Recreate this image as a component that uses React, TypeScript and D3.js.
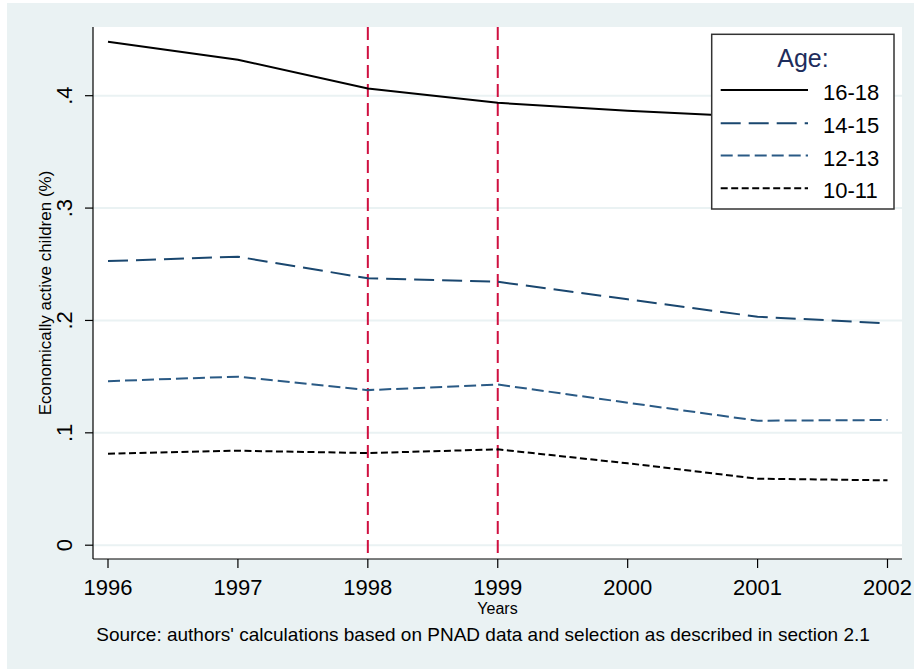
import React from "react";
import * as d3 from "d3";

const years = [1996, 1997, 1998, 1999, 2000, 2001, 2002];
const age1618 = [0.448, 0.432, 0.4065, 0.3937, 0.3867, 0.381, 0.377];
const age1415 = [0.2528, 0.2567, 0.2375, 0.2344, 0.2188, 0.2033, 0.1974];
const age1213 = [0.146, 0.15, 0.138, 0.143, 0.1268, 0.1108, 0.1114];
const age1011 = [0.0814, 0.0841, 0.082, 0.0853, 0.0729, 0.0592, 0.0577];
const yTicks = [0, 0.1, 0.2, 0.3, 0.4];
const yTickLabels = ["0", ".1", ".2", ".3", ".4"];
const markerYears = [1998, 1999];

const series = [
  { name: "16-18", values: age1618, color: "#000000", dash: "" },
  { name: "14-15", values: age1415, color: "#1a476f", dash: "20 8" },
  { name: "12-13", values: age1213, color: "#2a5a85", dash: "12 5" },
  { name: "10-11", values: age1011, color: "#000000", dash: "7 3.5" },
];

const W = 914;
const H = 669;
const plot = { left: 93, right: 902, top: 27, bottom: 559 };
const font = "'Liberation Sans', Arial, sans-serif";
const bg = "#eaf2f3";

export default function App() {
  const x = d3.scaleLinear().domain([1996, 2002]).range([108, 887.5]);
  const y = d3.scaleLinear().domain([0, 0.4]).range([545.2, 95.7]);

  const line = d3
    .line<number>()
    .x((_, i) => x(years[i]))
    .y((d) => y(d));

  const legend = { x: 711.7, y: 34.3, w: 182.3, h: 174.7 };
  const rowY = [90, 123.3, 155.5, 188.3];

  return (
    <svg
      width={W}
      height={H}
      style={{ position: "absolute", left: 0, top: 0, background: "#fff" }}
      fontFamily={font}
    >
      <rect x={7} y={3} width={W - 7} height={H - 3} fill={bg} />
      <rect
        x={plot.left}
        y={plot.top}
        width={plot.right - plot.left}
        height={plot.bottom - plot.top}
        fill="#fff"
      />

      {/* grid */}
      {yTicks.map((t) => (
        <line
          key={t}
          x1={plot.left}
          x2={plot.right}
          y1={y(t)}
          y2={y(t)}
          stroke={bg}
          strokeWidth={2}
        />
      ))}

      {/* reference years */}
      {markerYears.map((yr) => (
        <line
          key={yr}
          x1={x(yr)}
          x2={x(yr)}
          y1={plot.top}
          y2={plot.bottom}
          stroke="#cf1040"
          strokeWidth={2}
          strokeDasharray="13 6"
        />
      ))}

      {/* series */}
      {series.map((s) => (
        <path
          key={s.name}
          d={line(s.values) ?? ""}
          fill="none"
          stroke={s.color}
          strokeWidth={2}
          strokeDasharray={s.dash || undefined}
        />
      ))}

      {/* axes */}
      <line x1={plot.left} x2={plot.left} y1={plot.top} y2={plot.bottom} stroke="#000" strokeWidth={1.2} />
      <line x1={plot.left} x2={plot.right} y1={plot.bottom} y2={plot.bottom} stroke="#000" strokeWidth={1.2} />

      {yTicks.map((t, i) => (
        <g key={t}>
          <line x1={plot.left - 8} x2={plot.left} y1={y(t)} y2={y(t)} stroke="#000" strokeWidth={1.2} />
          <text
            transform={`translate(72,${y(t)}) rotate(-90)`}
            textAnchor="middle"
            fontSize={22}
          >
            {yTickLabels[i]}
          </text>
        </g>
      ))}

      {years.map((yr) => (
        <g key={yr}>
          <line x1={x(yr)} x2={x(yr)} y1={plot.bottom} y2={plot.bottom + 9} stroke="#000" strokeWidth={1.2} />
          <text x={x(yr)} y={595} textAnchor="middle" fontSize={22}>
            {yr}
          </text>
        </g>
      ))}

      <text
        transform={`translate(51,${(plot.top + plot.bottom) / 2}) rotate(-90)`}
        textAnchor="middle"
        fontSize={17}
      >
        Economically active children (%)
      </text>
      <text x={(plot.left + plot.right) / 2} y={614} textAnchor="middle" fontSize={16}>
        Years
      </text>
      <text x={483} y={641} textAnchor="middle" fontSize={19}>
        Source: authors' calculations based on PNAD data and selection as described in section 2.1
      </text>

      {/* legend */}
      <rect
        x={legend.x}
        y={legend.y}
        width={legend.w}
        height={legend.h}
        fill="#fff"
        stroke="#333"
        strokeWidth={1.5}
      />
      <text x={803} y={66.7} textAnchor="middle" fontSize={25} fill="#1e2d5c">
        Age:
      </text>
      {series.map((s, i) => (
        <g key={s.name}>
          <line
            x1={720.7}
            x2={808}
            y1={rowY[i]}
            y2={rowY[i]}
            stroke={s.color}
            strokeWidth={2}
            strokeDasharray={s.dash || undefined}
          />
          <text x={823} y={rowY[i] + 10} fontSize={22}>
            {s.name}
          </text>
        </g>
      ))}
    </svg>
  );
}
